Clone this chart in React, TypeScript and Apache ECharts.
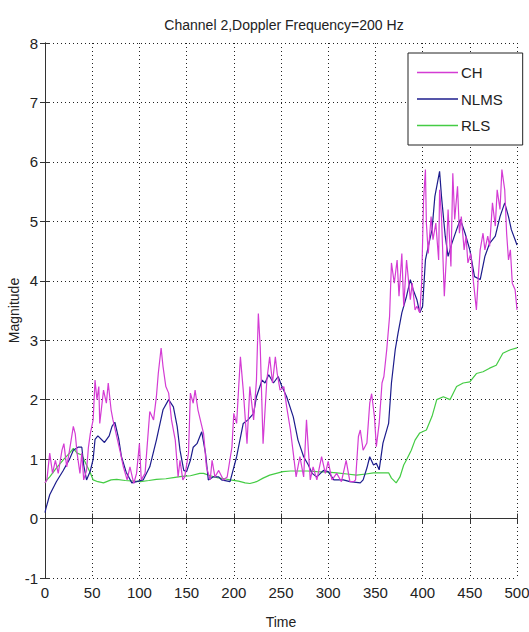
import React, { useEffect, useRef } from "react";
import * as echarts from "echarts";

const titleText = "Channel 2,Doppler Frequency=200 Hz";
const seriesNames = ["CH", "NLMS", "RLS"];

const chTime = [0,2,5,8,11,14,18,20,23,26,30,32,34,37,39,41,44,46,48,51,53,55,57,58,62,65,67,70,72,76,80,83,87,90,94,97,100,102,106,111,115,118,120,123,125,128,131,134,138,141,143,146,148,152,154,157,159,162,168,171,175,177,180,184,189,193,198,200,203,207,210,214,217,221,224,226,228,231,235,238,241,244,246,249,253,256,260,263,266,270,274,277,281,284,288,293,297,300,304,309,314,319,323,327,329,332,334,337,341,344,346,349,351,354,357,359,362,365,367,370,373,375,378,380,383,387,389,392,394,397,399,401,403,404,406,409,411,414,417,418,420,423,425,427,430,432,434,437,439,441,444,446,448,451,454,457,459,461,464,466,469,471,474,477,479,482,484,487,489,491,493,495,498,500];
const chValues = [0.6,0.65,1.1,0.76,0.98,0.76,1.15,1.26,0.87,1.15,1.55,1.43,1.1,0.76,1.1,0.65,0.81,1.2,1.43,1.66,2.33,2.0,2.22,1.6,2.16,1.94,2.28,1.83,1.66,1.38,1.1,0.87,0.65,0.87,0.59,0.76,1.26,0.65,0.76,1.8,1.66,2.05,2.44,2.87,2.56,2.22,2.11,1.66,1.32,0.7,0.98,0.65,0.7,1.1,2.11,1.94,2.16,1.83,1.43,0.87,0.65,0.98,0.7,0.81,0.65,0.7,1.2,1.77,1.6,2.72,2.16,1.26,2.22,1.66,2.33,3.45,2.89,1.26,2.33,2.72,2.28,2.72,2.44,2.16,2.22,1.88,1.49,1.1,0.7,1.04,0.7,1.66,0.65,0.87,0.65,1.04,0.76,0.96,0.65,0.76,0.62,0.98,0.62,0.62,0.65,1.38,1.49,1.15,1.27,1.94,2.1,1.71,1.21,1.6,2.28,2.39,2.84,3.4,4.3,3.96,4.35,3.74,4.46,3.57,4.35,3.68,3.96,3.51,3.57,3.46,3.96,5.36,5.87,4.97,4.46,5.08,4.69,4.97,4.35,5.53,5.08,3.74,4.35,5.2,4.24,5.81,5.03,5.59,4.8,5.08,4.52,4.75,4.3,4.46,3.96,3.51,4.07,4.52,4.8,4.52,4.75,4.58,5.31,4.92,5.53,5.2,5.87,5.53,4.8,4.35,4.52,3.96,3.85,3.51];

const nlmsTime = [0,1,5,12,19,26,30,35,39,41,44,48,51,53,56,63,68,71,74,78,81,86,92,97,104,111,118,125,131,136,140,143,147,150,154,157,161,166,170,173,178,184,187,196,203,210,215,221,224,230,233,237,242,247,251,256,263,268,274,279,283,288,295,300,306,316,323,334,337,341,344,348,351,354,358,364,367,371,374,378,383,387,390,394,397,400,403,406,410,413,418,420,424,427,431,436,440,445,450,455,461,466,471,477,482,487,491,494,498,500];
const nlmsValues = [0.1,0.17,0.4,0.62,0.8,1.0,1.15,1.2,1.2,0.9,0.65,0.8,1.0,1.33,1.39,1.28,1.39,1.55,1.62,1.35,1.04,0.78,0.6,0.62,0.65,0.87,1.32,1.83,2.0,1.88,1.55,1.15,0.81,0.79,0.98,1.2,1.26,1.46,1.1,0.65,0.7,0.7,0.65,0.62,1.04,1.6,1.66,1.77,2.05,2.33,2.28,2.42,2.28,2.39,2.22,2.05,1.71,1.32,1.04,0.9,0.76,0.7,0.81,0.79,0.65,0.65,0.62,0.6,0.65,0.85,1.04,0.9,0.93,0.82,1.27,1.6,2.28,2.84,3.12,3.46,3.74,4.02,3.85,3.68,3.46,3.57,4.35,4.58,4.86,5.42,5.84,5.42,4.75,4.41,4.63,4.86,5.03,4.8,4.52,4.07,4.02,4.41,4.63,4.75,5.08,5.31,5.08,4.86,4.69,4.6];

const rlsTime = [0,2,5,12,20,26,30,34,39,44,48,51,56,62,70,76,85,94,101,110,118,128,136,145,154,164,168,175,182,190,196,205,212,217,224,231,238,245,252,260,267,278,288,300,309,320,330,340,348,356,364,367,372,376,380,383,388,392,397,404,410,415,422,429,436,443,450,457,464,471,478,485,493,500];
const rlsValues = [0.6,0.65,0.7,0.85,1.0,1.1,1.18,1.1,1.07,0.9,0.77,0.65,0.62,0.6,0.65,0.66,0.64,0.63,0.62,0.64,0.66,0.67,0.69,0.71,0.72,0.76,0.76,0.72,0.69,0.67,0.65,0.63,0.6,0.59,0.62,0.68,0.73,0.76,0.79,0.8,0.8,0.8,0.79,0.78,0.77,0.75,0.73,0.75,0.77,0.77,0.77,0.68,0.6,0.7,0.9,0.99,1.15,1.32,1.44,1.49,1.72,2.0,2.05,2.0,2.22,2.28,2.3,2.44,2.47,2.53,2.58,2.78,2.84,2.87];

const seriesColors = ["#d43cd4", "#1c1c8c", "#44cc44"];

const FONT = "'Liberation Sans', Arial, sans-serif";

function zip(t: number[], v: number[]) {
  return t.map((x, i) => [x, v[i]]);
}

export default function App() {
  const ref = useRef<HTMLDivElement>(null);
  useEffect(() => {
    if (!ref.current) return;
    const chart = echarts.init(ref.current, undefined, { renderer: "svg" });
    const axisLine = { show: true, lineStyle: { color: "#333", width: 1 } };
    const tick = { show: true, inside: true, length: 5, lineStyle: { color: "#333" } };
    const grid = { show: true, lineStyle: { color: "#222", type: [1, 3] as any, width: 1 } };
    const data = [zip(chTime, chValues), zip(nlmsTime, nlmsValues), zip(rlsTime, rlsValues)];
    chart.setOption({
      animation: false,
      backgroundColor: "#fff",
      title: {
        text: titleText,
        left: 279,
        textAlign: "center",
        top: 13,
        textStyle: { fontFamily: FONT, fontSize: 14, fontWeight: "normal", color: "#222" },
      },
      grid: { left: 45, right: 12, top: 43, bottom: 54, outerBoundsMode: "none", containLabel: false },
      legend: {
        left: 408,
        top: 53,
        orient: "vertical",
        data: seriesNames,
        icon: "rect",
        itemWidth: 41,
        itemHeight: 1.5,
        itemGap: 11.5,
        padding: [12, 20, 12, 9],
        backgroundColor: "#fff",
        borderColor: "#222",
        borderWidth: 1,
        borderRadius: 0,
        textStyle: { fontFamily: FONT, fontSize: 15, color: "#222", padding: [0, 0, 0, -2] },
      },
      xAxis: [
        {
          type: "value",
          min: 0,
          max: 500,
          interval: 50,
          name: "Time",
          nameLocation: "middle",
          nameGap: 37,
          nameMoveOverlap: false,
          nameTextStyle: { fontFamily: FONT, fontSize: 14, color: "#222" },
          axisLine,
          axisTick: tick,
          axisLabel: { fontFamily: FONT, fontSize: 15, color: "#222", margin: 7 },
          splitLine: grid,
        },
        {
          type: "value",
          position: "top",
          min: 0,
          max: 500,
          interval: 50,
          axisLine,
          axisTick: tick,
          axisLabel: { show: false },
          splitLine: { show: false },
        },
      ],
      yAxis: [
        {
          type: "value",
          min: -1,
          max: 8,
          interval: 1,
          name: "Magnitude",
          nameLocation: "middle",
          nameGap: 24,
          nameMoveOverlap: false,
          nameTextStyle: { fontFamily: FONT, fontSize: 14, color: "#222" },
          axisLine,
          axisTick: tick,
          axisLabel: { fontFamily: FONT, fontSize: 15, color: "#222", margin: 7 },
          splitLine: grid,
        },
        {
          type: "value",
          position: "right",
          min: -1,
          max: 8,
          interval: 1,
          axisLine,
          axisTick: tick,
          axisLabel: { show: false },
          splitLine: { show: false },
        },
      ],
      series: seriesNames.map((name, i) => ({
        name,
        type: "line",
        data: data[i],
        symbol: "none",
        showSymbol: false,
        itemStyle: { color: seriesColors[i] },
        lineStyle: { color: seriesColors[i], width: 1.2 },
        z: 3 - i,
      })),
    });
    return () => chart.dispose();
  }, []);
  return (
    <div
      ref={ref}
      style={{ position: "absolute", left: 0, top: 0, width: 529, height: 632 }}
    />
  );
}
